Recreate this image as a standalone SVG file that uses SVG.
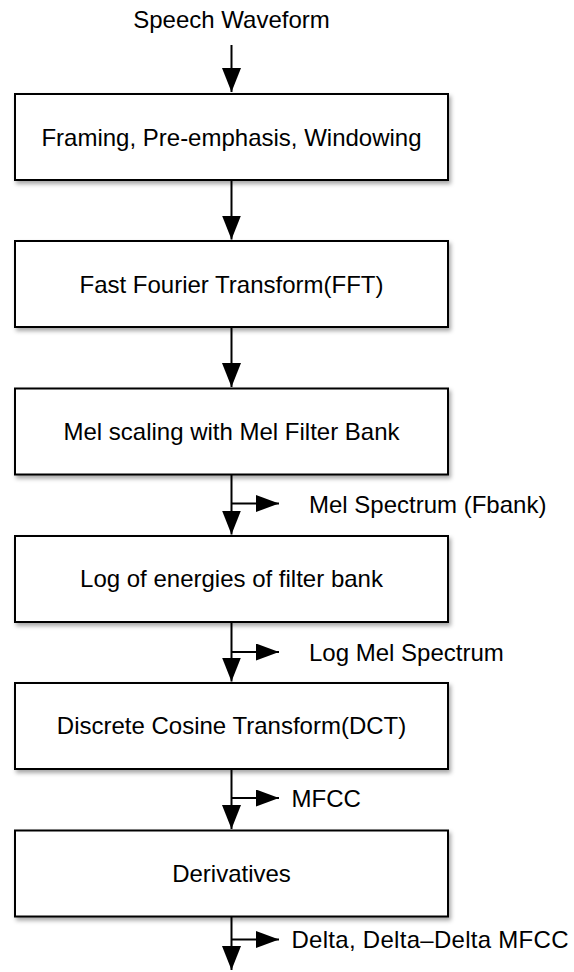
<svg xmlns="http://www.w3.org/2000/svg" width="574" height="972" viewBox="0 0 574 972">
  <defs>
    <style>
      .box { fill: #ffffff; stroke: #000000; stroke-width: 2; filter: url(#shadow); }
      .label { font-family: "Liberation Sans", Arial, Helvetica, sans-serif; font-size: 24px; fill: #000000; }
      .mid { text-anchor: middle; }
      .wire { fill: none; stroke: #000000; stroke-width: 2; }
      .down { marker-end: url(#headDown); }
      .side { marker-end: url(#headSide); }
    </style>
    <filter id="shadow" x="-5%" y="-10%" width="115%" height="130%">
      <feDropShadow dx="2" dy="3" stdDeviation="2" flood-color="#000000" flood-opacity="0.35"/>
    </filter>
    <marker id="headDown" markerUnits="userSpaceOnUse" viewBox="0 0 24 19" markerWidth="24" markerHeight="19" refX="24" refY="9.5" orient="auto">
      <path d="M0,0 L24,9.5 L0,19 Z" fill="#000000"/>
    </marker>
    <marker id="headSide" markerUnits="userSpaceOnUse" viewBox="0 0 23 17" markerWidth="23" markerHeight="17" refX="23" refY="8.5" orient="auto">
      <path d="M0,0 L23,8.5 L0,17 Z" fill="#000000"/>
    </marker>
  </defs>

  <rect width="574" height="972" fill="#ffffff"/>

  <!-- input label -->
  <g id="input">
    <text class="label mid" x="231.5" y="28">Speech Waveform</text>
  </g>

  <!-- processing stages -->
  <g id="framing">
    <rect class="box" x="15" y="94" width="433" height="86"/>
    <text class="label mid" x="231.5" y="146">Framing, Pre-emphasis, Windowing</text>
  </g>
  <g id="fft">
    <rect class="box" x="15" y="241" width="433" height="86"/>
    <text class="label mid" x="231.5" y="293">Fast Fourier Transform(FFT)</text>
  </g>
  <g id="mel">
    <rect class="box" x="15" y="388.5" width="433" height="86"/>
    <text class="label mid" x="231.5" y="440">Mel scaling with Mel Filter Bank</text>
  </g>
  <g id="log">
    <rect class="box" x="15" y="536" width="433" height="86"/>
    <text class="label mid" x="231.5" y="587">Log of energies of filter bank</text>
  </g>
  <g id="dct">
    <rect class="box" x="15" y="683" width="433" height="86"/>
    <text class="label mid" x="231.5" y="734">Discrete Cosine Transform(DCT)</text>
  </g>
  <g id="derivatives">
    <rect class="box" x="15" y="830.5" width="433" height="86"/>
    <text class="label mid" x="231.5" y="882">Derivatives</text>
  </g>

  <!-- intermediate outputs -->
  <g id="out-fbank">
    <text class="label" x="309" y="512.5">Mel Spectrum (Fbank)</text>
  </g>
  <g id="out-logmel">
    <text class="label" x="309" y="661">Log Mel Spectrum</text>
  </g>
  <g id="out-mfcc">
    <text class="label" x="291.5" y="806.5">MFCC</text>
  </g>
  <g id="out-delta">
    <text class="label" x="291.5" y="948" textLength="277" lengthAdjust="spacing">Delta, Delta–Delta MFCC</text>
  </g>

  <!-- connectors -->
  <g id="connectors">
    <line class="wire down" x1="231.5" y1="45" x2="231.5" y2="92"/>
    <line class="wire down" x1="231.5" y1="180" x2="231.5" y2="239.5"/>
    <line class="wire down" x1="231.5" y1="327" x2="231.5" y2="387"/>
    <line class="wire down" x1="231.5" y1="474.5" x2="231.5" y2="534.5"/>
    <line class="wire side" x1="231.5" y1="503.5" x2="279" y2="503.5"/>
    <line class="wire down" x1="231.5" y1="622" x2="231.5" y2="681.5"/>
    <line class="wire side" x1="231.5" y1="652" x2="279" y2="652"/>
    <line class="wire down" x1="231.5" y1="769" x2="231.5" y2="829"/>
    <line class="wire side" x1="231.5" y1="798" x2="279" y2="798"/>
    <line class="wire down" x1="231.5" y1="916.5" x2="231.5" y2="970"/>
    <line class="wire side" x1="231.5" y1="939.5" x2="279" y2="939.5"/>
  </g>
</svg>
